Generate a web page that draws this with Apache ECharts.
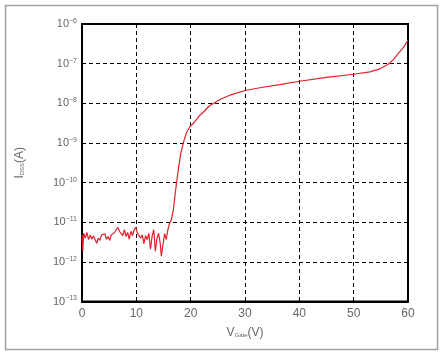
<!DOCTYPE html>
<html><head><meta charset="utf-8">
<script src="https://cdn.jsdelivr.net/npm/echarts@6/dist/echarts.min.js"></script>
<style>html,body{margin:0;padding:0;background:#fff}#c{width:445px;height:357px}</style>
</head><body><div id="c"></div>
<script>
// Gate voltage (V)
const vGate = [0.0,0.15,0.3,0.6,0.9,1.2,1.5,1.8,2.1,2.4,2.7,3.0,3.3,3.6,3.9,4.2,4.5,4.8,5.1,5.4,5.7,6.0,6.3,6.6,6.9,7.2,7.5,7.8,8.1,8.4,8.7,9.0,9.3,9.6,9.9,10.2,10.5,10.8,11.1,11.4,11.7,12.0,12.3,12.6,12.9,13.2,13.5,13.8,14.1,14.4,14.6,14.9,15.2,15.5,15.8,16.1,16.4,16.8,17.1,17.4,17.8,18.2,18.65,19.2,19.9,20.8,21.7,22.5,23.3,24.2,25.5,27.2,30,33,36.4,40,45,50,53,54.8,56.3,57.3,58.2,59.2,60];
// Leakage current IDSS (A)
const iDss = [4.79e-12,1.86e-12,5.25e-12,3.98e-12,5.5e-12,3.63e-12,4.79e-12,3.72e-12,4.57e-12,4.17e-12,2.95e-12,3.98e-12,3.47e-12,4.79e-12,4.37e-12,5.13e-12,3.72e-12,4.37e-12,3.47e-12,4.79e-12,4.57e-12,5.5e-12,6.46e-12,7.41e-12,5.89e-12,6.61e-12,4.57e-12,6.46e-12,4.37e-12,5.5e-12,3.72e-12,5.89e-12,4.57e-12,6.46e-12,7.41e-12,5.25e-12,5.89e-12,3.98e-12,4.79e-12,2.88e-12,4.57e-12,3.63e-12,5.25e-12,2.09e-12,4.37e-12,6.46e-12,1.86e-12,3.98e-12,5.25e-12,2.95e-12,1.38e-12,2.69e-12,5.25e-12,3.63e-12,6.46e-12,9.33e-12,1.1e-11,2.0e-11,4.5e-11,1e-10,2.5e-10,5.6e-10,1e-9,1.8e-9,2.6e-9,3.5e-9,5e-9,6.3e-9,8.3e-9,1e-8,1.26e-8,1.6e-8,2.1e-8,2.5e-8,2.95e-8,3.6e-8,4.5e-8,5.4e-8,6.2e-8,7.4e-8,9.5e-8,1.26e-7,1.8e-7,2.6e-7,3.9e-7];
const xTicks = [0,10,20,30,40,50,60];
const yExponents = [-13,-12,-11,-10,-9,-8,-7,-6];

const chart = echarts.init(document.getElementById('c'), null, {renderer:'canvas'});
const txt = '#666';
const ff = 'Liberation Sans, Arial, sans-serif';
chart.setOption({
  animation:false,
  backgroundColor:'#fff',
  graphic:[{type:'rect',shape:{x:5.5,y:5.5,width:432,height:344},style:{fill:'none',stroke:'#a0a0a0',lineWidth:1.5},silent:true}],
  grid:{left:82,right:37,top:24,bottom:55.5,show:true,borderColor:'#000',borderWidth:2,backgroundColor:'transparent'},
  xAxis:{type:'value',min:xTicks[0],max:xTicks[xTicks.length-1],interval:10,
    name:'V{sub|Gate}(V)',nameLocation:'middle',nameGap:25,
    nameTextStyle:{color:txt,fontSize:12,fontFamily:ff,rich:{sub:{fontSize:6,verticalAlign:'bottom',color:txt,padding:[4,0,0,0]}}},
    axisLine:{show:true,lineStyle:{color:'#000',width:2}},
    axisTick:{show:false},
    axisLabel:{color:txt,fontSize:12,fontFamily:ff,margin:6},
    splitLine:{show:true,lineStyle:{color:'#000',type:[4,3],width:1}}
  },
  yAxis:{type:'log',logBase:10,min:Math.pow(10,yExponents[0]),max:Math.pow(10,yExponents[yExponents.length-1]),
    name:'I{sub|DSS}(A)',nameLocation:'middle',nameGap:56,nameRotate:90,
    nameTextStyle:{color:txt,fontSize:12,fontFamily:ff,rich:{sub:{fontSize:6,color:txt,padding:[4,0,0,0]}}},
    axisLine:{show:true,lineStyle:{color:'#000',width:2}},
    axisTick:{show:false},
    axisLabel:{color:txt,fontFamily:ff,margin:5,
      formatter:function(v){const e=Math.round(Math.log10(v));return '{b|10}{s|\u2212'+Math.abs(e)+'}';},
      rich:{b:{fontSize:11,color:txt,fontFamily:ff},s:{fontSize:7,color:txt,fontFamily:ff,verticalAlign:'top',padding:[0,0,6,0]}}},
    splitLine:{show:true,lineStyle:{color:'#000',type:[4,3],width:1}}
  },
  series:[{type:'line',data:vGate.map((v,i)=>[v,iDss[i]]),showSymbol:false,symbol:'none',
    lineStyle:{color:'#e0202a',width:1.2},z:5}]
});
</script></body></html>
